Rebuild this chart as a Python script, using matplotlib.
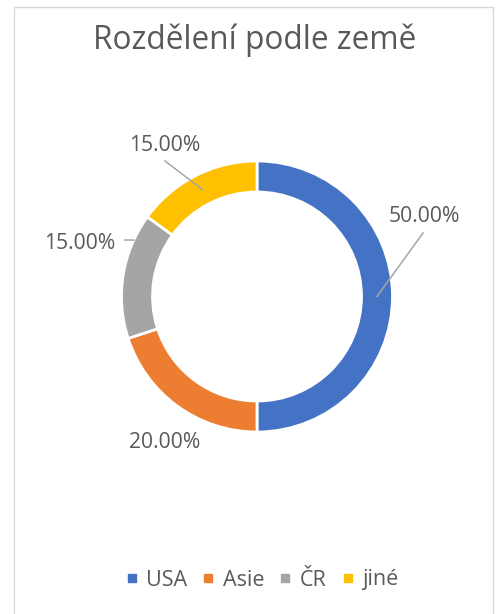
import numpy as np
import matplotlib.pyplot as plt
from matplotlib.lines import Line2D
from matplotlib.patches import Rectangle

plt.rcParams['font.family'] = ['Open Sans', 'DejaVu Sans']

# data
countries = ["USA", "Asie", "ČR", "jiné"]
shares = [50, 20, 15, 15]
colors = ["#4472C4", "#ED7D31", "#A5A5A5", "#FFC000"]
title = "Rozdělení podle země"

W, H = 501, 614
TXT = "#595959"

fig = plt.figure(figsize=(W / 100, H / 100), dpi=100)
ax = fig.add_axes([0, 0, 1, 1])

cx, cy, R, ring = 257, H - 296.5, 135.5, 31
wedges, _ = ax.pie(shares, colors=colors, startangle=90, counterclock=False,
                   center=(cx, cy), radius=R,
                   wedgeprops=dict(width=ring, edgecolor="white", linewidth=2))
ax.set_xlim(0, W)
ax.set_ylim(0, H)
ax.set_aspect("equal")
ax.axis("off")

# chart border
ax.add_patch(Rectangle((14.5, -20), 479, H - 6.5 + 20, fill=False,
                       edgecolor="#D9D9D9", linewidth=1))

ax.text(255, H - 49, title, ha="center", va="baseline", fontsize=22.8, color=TXT)

# label layout (pixel positions) and leader anchors (angle, radius)
lab_pos = [(424.5, 222.5), (165, 448), (80, 249), (165, 151)]
line_start = [(423, 233), None, (125, 240), (165, 161)]
anchor = [(None, R - ring / 2), None, (155.4, R), (None, R - ring / 2)]

cum = 0
for i, (v, wdg) in enumerate(zip(shares, wedges)):
    mid = 90 - (cum + v / 2) / sum(shares) * 360
    cum += v
    lx, ly = lab_pos[i]
    ax.text(lx, H - ly, f"{v / sum(shares) * 100:.2f}%", ha="center",
            va="baseline", fontsize=15.2, color=TXT)
    if line_start[i] is not None:
        ang, rr = anchor[i]
        if ang is None:
            ang = mid
        ex = cx + rr * np.cos(np.radians(ang))
        ey = cy + rr * np.sin(np.radians(ang))
        sx, sy = line_start[i]
        ax.plot([sx, ex], [H - sy, ey], color="#A6A6A6", linewidth=1.1)

handles = [Line2D([], [], marker="s", linestyle="", color=c, markersize=5.2)
           for c in colors]
leg = ax.legend(handles, countries, ncol=4, loc="center", frameon=False,
                bbox_to_anchor=(262 / W, 1 - 580 / H), fontsize=15.5,
                handlelength=0.55, handletextpad=0.4, columnspacing=0.7)
for t in leg.get_texts():
    t.set_color(TXT)

fig.savefig("out.png", dpi=100)
